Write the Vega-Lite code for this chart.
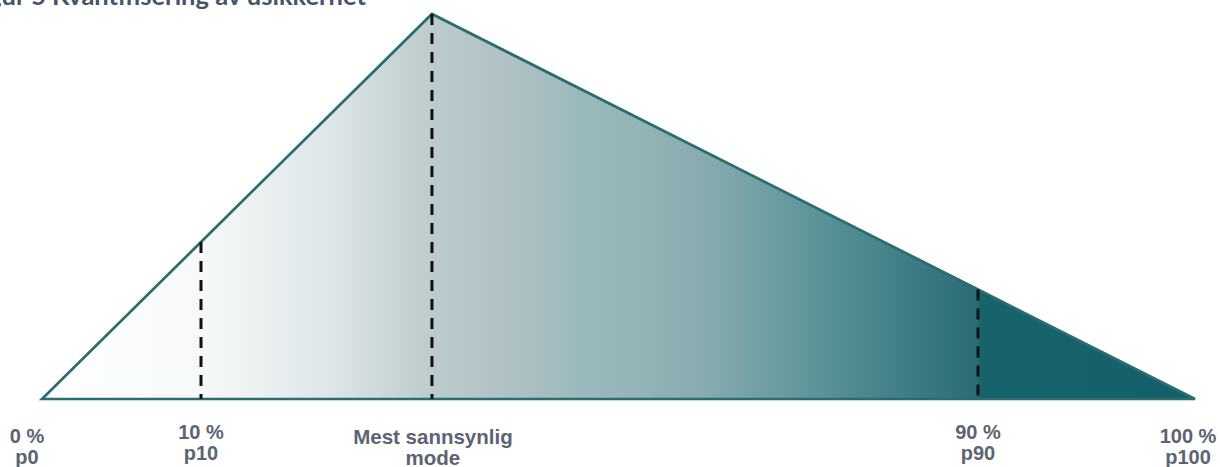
{
  "$schema": "https://vega.github.io/schema/vega-lite/v6.json",
  "width": 1220,
  "height": 467,
  "autosize": {"type": "none"},
  "padding": 0,
  "background": "#ffffff",
  "config": {"view": {"stroke": null}},
  "data": {
    "values": [
      {"p": "p0", "x": 0, "h": 0, "label": "0 %\np0"},
      {"p": "p10", "x": 13.79, "h": 0.4077, "label": "10 %\np10"},
      {"p": "mode", "x": 33.82, "h": 1, "label": "Mest sannsynlig\nmode"},
      {"p": "p90", "x": 81.18, "h": 0.2844, "label": "90 %\np90"},
      {"p": "p100", "x": 100, "h": 0, "label": "100 %\np100"}
    ]
  },
  "layer": [
    {
      "mark": {
        "type": "area",
        "opacity": 1,
        "interpolate": "linear",
        "fill": {
          "gradient": "linear",
          "x1": 0, "y1": 0, "x2": 1, "y2": 0,
          "stops": [
            {"offset": 0, "color": "#ffffff"},
            {"offset": 0.137, "color": "#f7f9f9"},
            {"offset": 0.248, "color": "#dee6e8"},
            {"offset": 0.339, "color": "#bccbcd"},
            {"offset": 0.414, "color": "#adc0c3"},
            {"offset": 0.469, "color": "#9ab9bc"},
            {"offset": 0.524, "color": "#93b3b6"},
            {"offset": 0.579, "color": "#86abaf"},
            {"offset": 0.635, "color": "#6c9da1"},
            {"offset": 0.69, "color": "#558e94"},
            {"offset": 0.745, "color": "#417f86"},
            {"offset": 0.8, "color": "#2f6f77"},
            {"offset": 0.811, "color": "#2b6c74"},
            {"offset": 0.814, "color": "#17636c"},
            {"offset": 1, "color": "#14606a"}
          ]
        }
      },
      "encoding": {
        "x": {"field": "x", "type": "quantitative", "scale": {"domain": [-3.6427, 102.168], "nice": false, "zero": false}, "axis": null},
        "y": {"field": "h", "type": "quantitative", "scale": {"domain": [-0.17662, 1.03636], "nice": false, "zero": false}, "axis": null},
        "y2": {"datum": 0}
      }
    },
    {
      "mark": {"type": "area", "fillOpacity": 0, "stroke": "#2b6c72", "strokeWidth": 2.7, "strokeJoin": "miter"},
      "encoding": {
        "x": {"field": "x", "type": "quantitative"},
        "y": {"field": "h", "type": "quantitative"},
        "y2": {"datum": 0}
      }
    },
    {
      "transform": [{"filter": "datum.h > 0"}],
      "mark": {"type": "rule", "color": "#111111", "strokeWidth": 3, "strokeDash": [11, 8]},
      "encoding": {
        "x": {"field": "x", "type": "quantitative"},
        "y": {"field": "h", "type": "quantitative"},
        "y2": {"datum": 0}
      }
    },
    {
      "transform": [{"filter": "datum.p == 'p0'"}],
      "mark": {"type": "text", "font": "Liberation Sans", "fontWeight": "bold", "fontSize": 20, "color": "#5c6372", "lineBreak": "\n", "lineHeight": 21, "align": "center", "baseline": "alphabetic", "dx": -15},
      "encoding": {
        "x": {"field": "x", "type": "quantitative"},
        "y": {"datum": -0.1143, "type": "quantitative"},
        "text": {"field": "label"}
      }
    },
    {
      "transform": [{"filter": "datum.p == 'p10' || datum.p == 'p90'"}],
      "mark": {"type": "text", "font": "Liberation Sans", "fontWeight": "bold", "fontSize": 20, "color": "#5c6372", "lineBreak": "\n", "lineHeight": 21, "align": "center", "baseline": "alphabetic"},
      "encoding": {
        "x": {"field": "x", "type": "quantitative"},
        "y": {"datum": -0.1039, "type": "quantitative"},
        "text": {"field": "label"}
      }
    },
    {
      "transform": [{"filter": "datum.p == 'mode'"}],
      "mark": {"type": "text", "font": "Liberation Sans", "fontWeight": "bold", "fontSize": 20.5, "color": "#5c6372", "lineBreak": "\n", "lineHeight": 21, "align": "center", "baseline": "alphabetic", "dx": 1},
      "encoding": {
        "x": {"field": "x", "type": "quantitative"},
        "y": {"datum": -0.1169, "type": "quantitative"},
        "text": {"field": "label"}
      }
    },
    {
      "transform": [{"filter": "datum.p == 'p100'"}],
      "mark": {"type": "text", "font": "Liberation Sans", "fontWeight": "bold", "fontSize": 20, "color": "#5c6372", "lineBreak": "\n", "lineHeight": 21, "align": "center", "baseline": "alphabetic", "dx": -7},
      "encoding": {
        "x": {"field": "x", "type": "quantitative"},
        "y": {"datum": -0.1143, "type": "quantitative"},
        "text": {"field": "label"}
      }
    },
    {
      "transform": [{"filter": "datum.p == 'mode'"}],
      "mark": {"type": "text", "font": "Lato", "fontWeight": "bold", "fontSize": 25.5, "color": "#44546a", "align": "right", "baseline": "alphabetic"},
      "encoding": {
        "x": {"datum": 28.1, "type": "quantitative"},
        "y": {"datum": 1.0245, "type": "quantitative"},
        "text": {"value": "Figur 5 Kvantifisering av usikkerhet"}
      }
    }
  ]
}
